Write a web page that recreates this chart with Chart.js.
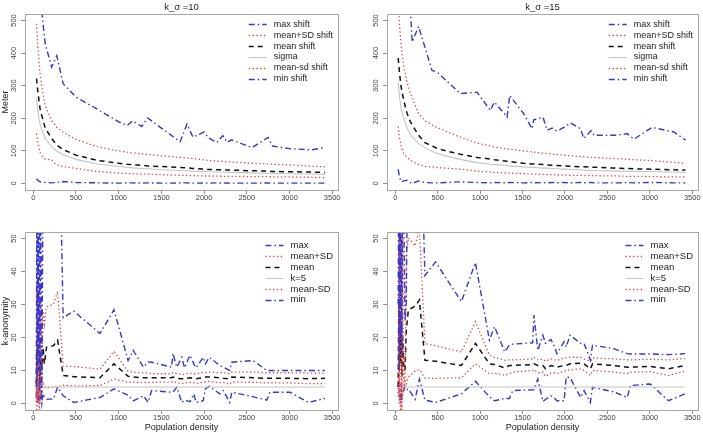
<!DOCTYPE html>
<html><head><meta charset="utf-8">
<script src="https://cdn.jsdelivr.net/npm/chart.js@4.4.1/dist/chart.umd.min.js"></script>
<style>
html,body{margin:0;padding:0;background:#fff;}
#wrap{position:relative;width:703px;height:434px;overflow:hidden;background:#fff;}
.p{position:absolute;}
canvas{display:block;}
</style></head><body>
<div id="wrap">
<div class="p" style="left:0;top:0;width:350px;height:217px"><canvas id="c1" width="350" height="217" style="width:350px;height:217px"></canvas></div>
<div class="p" style="left:350px;top:0;width:353px;height:217px"><canvas id="c2" width="353" height="217" style="width:353px;height:217px"></canvas></div>
<div class="p" style="left:0;top:217px;width:350px;height:217px"><canvas id="c3" width="350" height="217" style="width:350px;height:217px"></canvas></div>
<div class="p" style="left:350px;top:217px;width:353px;height:217px"><canvas id="c4" width="353" height="217" style="width:353px;height:217px"></canvas></div>
</div>
<script>
// ---------- tick labels ----------
const xTickValues = [0, 500, 1000, 1500, 2000, 2500, 3000, 3500];
const yTicksMeter = [0, 100, 200, 300, 400, 500];
const yTicksK = [0, 10, 20, 30, 40, 50];

const legendTop = ['max shift', 'mean+SD shift', 'mean shift', 'sigma', 'mean-sd shift', 'min shift'];
const legendBottom = ['max', 'mean+SD', 'mean', 'k=5', 'mean-SD', 'min'];

// ---------- top-left: k_sigma = 10 ----------
const tlDensity = [38, 50, 65, 80, 100, 140, 215, 275, 350, 500, 750, 1000, 1100, 1160, 1270, 1340, 1500, 1720, 1800, 1870, 2000, 2050, 2150, 2220, 2270, 2320, 2560, 2750, 2800, 3000, 3250, 3415];
const tlMax = [900, 800, 700, 600, 525, 428, 357, 392, 306, 265, 228, 189, 178, 192, 175, 201, 170, 128, 182, 142, 158, 140, 126, 147, 126, 134, 110, 141, 115, 107, 103, 110];
const tlMeanPlusSd = [490, 430, 380, 335, 298, 238, 193, 172, 157, 135, 113, 100, 96, 94, 91, 89, 85, 80, 78, 77, 72, 71, 69, 68, 67, 66, 62, 60, 59, 57, 53, 51];
const tlMean = [322, 290, 258, 228, 208, 170, 138, 118, 104, 87, 71, 62, 59, 58, 56, 54, 52, 49, 48, 46, 44, 43, 42, 42, 41, 41, 39, 38, 37, 36, 35, 34];
const tlSigma = [262, 230, 202, 182, 163, 138, 112, 99, 88, 74, 60, 52, 50, 48, 46, 45, 42, 40, 39, 38, 37, 36, 35, 35, 34.5, 34, 32.5, 31.5, 31, 30, 29, 28];
const tlMeanMinusSd = [153, 130, 112, 95, 85, 75, 72, 57, 52, 46, 37, 32, 31, 30, 29, 28.5, 27, 25, 24.5, 24, 23, 23, 22.5, 22, 22, 22, 21, 21, 20.5, 20, 19, 18];
const tlMin = [15, 10, 7, 5, 4, 3, 2, 3, 6, 3, 2, 1, 1.5, 2, 1, 2, 1, 1.5, 2, 1, 1.5, 1, 2, 1, 1.5, 1, 1, 1.5, 1, 1, 1, 1];

// ---------- top-right: k_sigma = 15 ----------
const trDensity = [35, 50, 70, 100, 140, 177, 200, 275, 350, 433, 492, 600, 767, 964, 1121, 1168, 1318, 1349, 1514, 1612, 1632, 1742, 1790, 1849, 1907, 1986, 2065, 2183, 2222, 2308, 2340, 2615, 2733, 2812, 3028, 3284, 3420];
const trMax = [1200, 1000, 850, 700, 600, 540, 434, 482, 418, 347, 342, 316, 276, 280, 224, 250, 204, 270, 214, 168, 195, 203, 163, 170, 161, 172, 186, 168, 138, 162, 148, 148, 153, 136, 172, 158, 133];
const trMeanPlusSd = [560, 490, 420, 360, 310, 278, 262, 215, 192, 180, 172, 160, 142, 124, 115, 112, 106, 105, 100, 97, 96, 93, 92, 90, 89, 87, 85, 83, 82, 80, 80, 76, 74, 73, 70, 65, 61];
const trMean = [385, 340, 295, 255, 215, 190, 180, 148, 125, 115, 108, 100, 90, 80, 75, 73, 68, 67, 62, 60, 60, 58, 57, 56, 55, 54, 53, 51, 51, 50, 50, 47, 46, 45, 44, 42, 41];
const trSigma = [310, 265, 228, 200, 170, 152, 143, 123, 110, 99, 93, 84, 74, 64, 59, 58, 55, 54, 51, 49, 49, 47, 47, 46, 45, 44, 43, 42, 41, 40, 40, 38, 37, 37, 36, 35, 34];
const trMeanMinusSd = [175, 140, 115, 92, 80, 72, 68, 58, 52, 51, 49, 47, 44, 38, 35, 34, 32, 32, 30, 29, 29, 28, 27, 27, 26, 26, 25, 25, 24, 24, 24, 23, 22, 22, 21, 20, 20];
const trMin = [43, 20, 5, 8, 10, 3, 0, 8, 3, 2, 2, 3, 5, 3, 2, 3, 2, 3, 2, 3, 2, 3, 2, 3, 2, 3, 2, 3, 2, 3, 2, 2, 3, 2, 3, 2, 2];

// ---------- bottom panels (k-anonymity) ----------
const botDensity = [35, 42, 48, 55, 62, 70, 78, 88, 100, 115, 130, 155, 235, 285, 350, 475, 780, 945, 1110, 1170, 1290, 1345, 1385, 1620, 1635, 1680, 1740, 1770, 1835, 1880, 1905, 1990, 2015, 2060, 2185, 2225, 2300, 2325, 2575, 2735, 2770, 3005, 3220, 3415];
const kDensity = [35, 3415];
const kLevel = [5, 5];

const blMax = [5, 60, 8, 70, 12, 80, 4, 60, 3, 70, 90, 100, 90, 110, 26, 28, 21.2, 28.4, 13, 16.1, 11, 12.6, 12.5, 11, 15.2, 11, 14, 10.8, 14.6, 12, 10.8, 14, 12, 14, 11.5, 11, 10, 12.5, 13, 10, 10, 10, 10, 10];
const blMeanPlusSd = [0.5, 36, 2, 34, 4, 36, 0, 30, 5, 28, 24, 29.4, 30, 34, 11.3, 11.2, 10.4, 15.8, 9.7, 9.5, 9.2, 9.3, 9, 9, 9.4, 9, 8.8, 8.8, 9.2, 9, 9, 9.4, 9.4, 9.5, 9.3, 9.4, 9, 9.5, 9.5, 9.3, 9.3, 9.3, 9.2, 9.2];
const blMean = [6, 16, 8, 18, 10, 16, 6, 15, 10, 17, 12, 17.1, 17.5, 19.2, 8.5, 8.1, 7.8, 12, 8.2, 8, 7.8, 7.8, 7.8, 7.8, 8, 7.6, 7.5, 7.5, 7.8, 7.6, 7.5, 7.8, 8, 8, 7.8, 7.6, 7.4, 8, 7.8, 7.6, 7.6, 7.6, 7.5, 7.6];
const blMeanMinusSd = [3, -3, 5, 0, 8, -4, 4, 2, 5, 6, 5, 4.7, 5, 5, 5.5, 5.3, 5.4, 7.4, 6.4, 6.5, 6.3, 6.4, 6.4, 6.5, 6.7, 6.3, 6, 6.2, 6.4, 6.2, 6, 6.5, 6.5, 6.7, 6.3, 6.4, 5.8, 6.5, 6.4, 6.2, 6.2, 6.2, 6, 6];
const blMin = [2, 6, 1, 8, 0, 5, 1, 4, 0, 3, 2, 1.3, 1.3, 4.9, 2.3, 0.3, 1.8, 4.4, 2.5, 0.8, 2.3, 0.3, 3.9, 3.4, 3.4, 4.9, 0.3, 1, 0.5, 2.9, 0.3, 0.8, 4.4, 5.2, 2.9, 3.9, 0.3, 3.4, 2, 1, 3.4, 3.4, 0.3, 1.5];

const brMax = [30, 80, 10, 90, 20, 80, 15, 70, 60, 25, 30, 100, 90, 100, 38.8, 42.9, 30.9, 42.7, 19.2, 23.3, 15.6, 17.7, 18, 18.4, 26.8, 16.1, 20.7, 18.2, 19.4, 17, 15.1, 18.7, 17.1, 20.7, 18.2, 18.2, 13.1, 17.7, 16.6, 15.1, 15, 15, 14.8, 15.1];
const brMeanPlusSd = [2, 55, 5, 60, 8, 55, -2, 50, 5, 6, 45, 50.3, 47.8, 53, 18.2, 17.5, 15.6, 24.8, 14.6, 14, 13.1, 13.2, 13.2, 13.5, 14, 13.2, 13.5, 12.8, 13.5, 13.2, 13, 13.8, 13.8, 14, 14, 13.5, 12.8, 13.8, 13.5, 13.2, 13.2, 13.4, 13.2, 13.6];
const brMean = [5, 30, 10, 28, 12, 25, 8, 20, 12, 10, 22, 28.4, 29.5, 31.4, 13.1, 12.8, 11.5, 18.2, 12, 11.8, 10.8, 11.5, 11.5, 11.8, 12, 11.5, 11.5, 10.5, 11.5, 11.2, 11, 11.5, 11.5, 12, 12.2, 12, 10.5, 12, 11.5, 11, 11, 11.2, 10.5, 11.5];
const brMeanMinusSd = [3, 5, 0, 6, -3, 8, 4, 2, 5, 7, 6, 8, 9.8, 10.2, 7.7, 7.6, 7.8, 12, 9, 9.2, 8.5, 9, 9.5, 10, 10.3, 9.2, 9.5, 8.2, 9.2, 9.3, 9, 9.8, 10, 10.2, 10.5, 10, 8.5, 10, 9.5, 9, 9.5, 9.6, 8.5, 9.8];
const brMin = [5, 8, 2, 4, 0, 6, 1, 3, 4, 5, 4, 4.4, 1.3, 7.4, 1, 0.3, 2.9, 6.7, 2, 0.8, 1.5, 1.5, 3.9, 4.1, 4.2, 7.4, 0.6, 1.2, 2.3, 1.5, 0.8, 0.8, 8, 7.8, 1.8, 3.9, 0.3, 4.9, 3.5, 1.8, 5.4, 5.9, 0.8, 2.9];

// ---------- styles ----------
const FONT = '"Liberation Sans", Arial, Helvetica, sans-serif';
const BLUE = '#3838c8', RED = '#e04848', BLACK = '#111111', GRAY = '#c4c4c4';
const styles = [
  {color: BLUE, dash: [6, 3, 1.5, 3], width: 1.4},
  {color: RED, dash: [1.4, 2.4], width: 1.3},
  {color: BLACK, dash: [5, 4], width: 1.5},
  {color: GRAY, dash: [], width: 1.1},
  {color: RED, dash: [1.4, 2.4], width: 1.3},
  {color: BLUE, dash: [6, 3, 1.5, 3], width: 1.4}
];

function pts(xs, ys) { return xs.map((x, i) => ({x: x, y: ys[i]})); }

function decoPlugin(p) {
  return {
    id: 'deco',
    afterDraw(chart) {
      const ctx = chart.ctx, a = chart.chartArea, ys = chart.scales.y, xs = chart.scales.x;
      ctx.save();
      ctx.setLineDash([]);
      ctx.strokeStyle = '#a8a8a8'; ctx.lineWidth = 1;
      ctx.strokeRect(Math.round(a.left) + 0.5, Math.round(a.top) + 0.5, Math.round(a.right - a.left), Math.round(a.bottom - a.top));
      ctx.fillStyle = '#444'; ctx.font = '7.5px ' + FONT;
      // x tick labels
      ctx.textAlign = 'center'; ctx.textBaseline = 'top';
      xTickValues.forEach(v => { ctx.fillText(String(v), xs.getPixelForValue(v), a.bottom + 4); });
      // rotated y tick labels
      ctx.textBaseline = 'middle';
      p.yTicks.forEach(v => {
        const y = ys.getPixelForValue(v);
        ctx.save(); ctx.translate(a.left - 11, y); ctx.rotate(-Math.PI / 2);
        ctx.fillText(String(v), 0, 0); ctx.restore();
      });
      const cx = (a.left + a.right) / 2;
      ctx.fillStyle = '#222';
      if (p.title) { ctx.font = '9.5px ' + FONT; ctx.fillText(p.title, cx, 7); }
      if (p.ylabel) {
        ctx.font = '9px ' + FONT;
        ctx.save(); ctx.translate(6, (a.top + a.bottom) / 2); ctx.rotate(-Math.PI / 2);
        ctx.fillText(p.ylabel, 0, 0); ctx.restore();
      }
      if (p.xlabel) { ctx.font = '9px ' + FONT; ctx.fillText(p.xlabel, cx, 211); }
      // legend
      ctx.font = p.legendFont + 'px ' + FONT;
      let maxW = 0; p.legend.forEach(t => { maxW = Math.max(maxW, ctx.measureText(t).width); });
      const tx = a.right - 5 - maxW;
      ctx.textAlign = 'left';
      p.legend.forEach((t, i) => {
        const y = p.legendY + i * 10.9;
        const s = styles[i];
        ctx.strokeStyle = s.color; ctx.lineWidth = s.width; ctx.setLineDash(s.dash);
        ctx.beginPath(); ctx.moveTo(tx - 25, Math.round(y) + 0.5); ctx.lineTo(tx - 7, Math.round(y) + 0.5); ctx.stroke();
        ctx.setLineDash([]);
        ctx.fillStyle = '#222'; ctx.fillText(t, tx, y);
      });
      ctx.restore();
    }
  };
}

function makePanel(id, p) {
  const datasets = p.series.map((s, i) => ({
    label: p.legend[i],
    data: pts(s[0], s[1]),
    borderColor: styles[i].color,
    borderWidth: styles[i].width,
    borderDash: styles[i].dash,
    borderCapStyle: 'butt',
    pointRadius: 0, tension: 0, fill: false
  }));
  new Chart(document.getElementById(id), {
    type: 'line',
    data: {datasets: datasets},
    options: {
      responsive: false, animation: false, devicePixelRatio: 1,
      layout: {padding: p.pad},
      plugins: {legend: {display: false}, tooltip: {enabled: false}},
      scales: {
        x: {
          type: 'linear', min: -97, max: 3568,
          afterBuildTicks: s => { s.ticks = xTickValues.map(v => ({value: v})); },
          afterFit: s => { s.height = 0; },
          grid: {drawOnChartArea: false, drawTicks: true, tickLength: 4, color: '#909090'},
          border: {display: false},
          ticks: {display: false}
        },
        y: {
          type: 'linear', min: p.ymin, max: p.ymax,
          afterBuildTicks: s => { s.ticks = p.yTicks.map(v => ({value: v})); },
          afterFit: s => { s.width = 0; },
          grid: {drawOnChartArea: false, drawTicks: true, tickLength: 4, color: '#909090'},
          border: {display: false},
          ticks: {display: false}
        }
      }
    },
    plugins: [decoPlugin(p)]
  });
}

makePanel('c1', {
  series: [[tlDensity, tlMax], [tlDensity, tlMeanPlusSd], [tlDensity, tlMean], [tlDensity, tlSigma], [tlDensity, tlMeanMinusSd], [tlDensity, tlMin]],
  legend: legendTop, yTicks: yTicksMeter, ymin: -20, ymax: 520,
  pad: {left: 25, right: 12, top: 14, bottom: 27},
  title: 'k_σ =10', ylabel: 'Meter', legendY: 24.3, legendFont: 9
});
makePanel('c2', {
  series: [[trDensity, trMax], [trDensity, trMeanPlusSd], [trDensity, trMean], [trDensity, trSigma], [trDensity, trMeanMinusSd], [trDensity, trMin]],
  legend: legendTop, yTicks: yTicksMeter, ymin: -20, ymax: 520,
  pad: {left: 37, right: 5, top: 14, bottom: 27},
  title: 'k_σ =15', legendY: 24.3, legendFont: 9
});
makePanel('c3', {
  series: [[botDensity, blMax], [botDensity, blMeanPlusSd], [botDensity, blMean], [kDensity, kLevel], [botDensity, blMeanMinusSd], [botDensity, blMin]],
  legend: legendBottom, yTicks: yTicksK, ymin: -2, ymax: 52,
  pad: {left: 25, right: 12, top: 15, bottom: 24},
  ylabel: 'k-anonymity', xlabel: 'Population density', legendY: 28.3, legendFont: 9.5
});
makePanel('c4', {
  series: [[botDensity, brMax], [botDensity, brMeanPlusSd], [botDensity, brMean], [kDensity, kLevel], [botDensity, brMeanMinusSd], [botDensity, brMin]],
  legend: legendBottom, yTicks: yTicksK, ymin: -2, ymax: 52,
  pad: {left: 37, right: 5, top: 15, bottom: 24},
  xlabel: 'Population density', legendY: 28.3, legendFont: 9.5
});
</script>
</body></html>
